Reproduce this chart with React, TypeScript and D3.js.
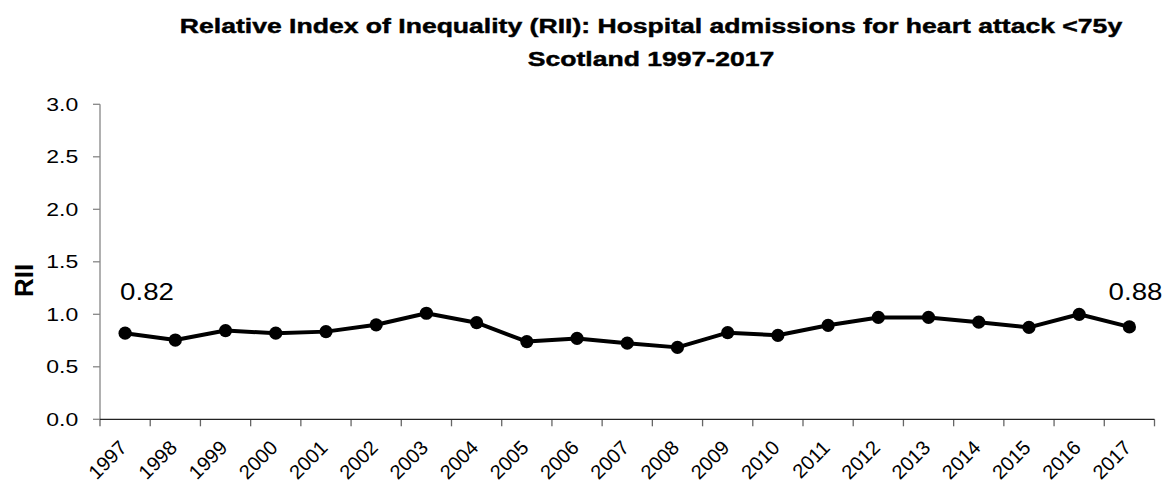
import React from "react";
import * as d3 from "d3";

// RII series, Scotland 1997-2017
const years: string[] = [
  "1997", "1998", "1999", "2000", "2001", "2002", "2003", "2004", "2005", "2006", "2007",
  "2008", "2009", "2010", "2011", "2012", "2013", "2014", "2015", "2016", "2017",
];
const rii: number[] = [
  0.82, 0.755, 0.845, 0.82, 0.835, 0.9, 1.01, 0.92, 0.74, 0.77, 0.725,
  0.685, 0.825, 0.8, 0.895, 0.97, 0.97, 0.925, 0.875, 1.0, 0.88,
];
const yTicks: number[] = [0, 0.5, 1.0, 1.5, 2.0, 2.5, 3.0];
const titleLines: string[] = [
  "Relative Index of Inequality (RII): Hospital admissions for heart attack <75y",
  "Scotland 1997-2017",
];
const yAxisTitle = "RII";

const W = 1165;
const H = 484;
const FONT = "'Liberation Sans', Arial, Helvetica, sans-serif";

export default function App() {
  const left = 100;
  const right = 1154.5;
  const top = 104.3;
  const bottom = 419.3;

  const x = d3.scaleBand<string>().domain(years).range([left, right]).padding(0);
  const y = d3.scaleLinear().domain([0, 3]).range([bottom, top]);
  const cx = (yr: string) => (x(yr) ?? 0) + x.bandwidth() / 2;

  const line = d3
    .line<number>()
    .x((_, i) => cx(years[i]))
    .y((d) => y(d));

  const tickEdges = d3.range(years.length + 1).map((i) => left + i * x.bandwidth());

  const first = 0;
  const last = rii.length - 1;

  return (
    <svg
      width={W}
      height={H}
      style={{ position: "absolute", left: 0, top: 0, background: "#fff" }}
      fontFamily={FONT}
    >
      {/* title */}
      {titleLines.map((t, i) => (
        <text
          key={i}
          transform={`translate(651, ${33.3 + i * 32.7}) scale(1.265, 1)`}
          textAnchor="middle"
          fontSize={21}
          fontWeight="bold"
          fill="#000"
          stroke="#000"
          strokeWidth={0.45}
        >
          {t}
        </text>
      ))}

      {/* y axis */}
      <line x1={left} x2={left} y1={top} y2={bottom} stroke="#868686" strokeWidth={1.3} />
      {yTicks.map((t) => (
        <g key={t}>
          <line x1={left - 7} x2={left} y1={y(t)} y2={y(t)} stroke="#868686" strokeWidth={1.3} />
          <text
            transform={`translate(78.3, ${y(t) + 6.4}) scale(1.3, 1)`}
            textAnchor="end"
            fontSize={17.7}
            fill="#000"
          >
            {t.toFixed(1)}
          </text>
        </g>
      ))}
      <text
        transform={`translate(33.3, 280.5) rotate(-90)`}
        textAnchor="middle"
        fontSize={26}
        fontWeight="bold"
        fill="#000"
      >
        {yAxisTitle}
      </text>

      {/* x axis */}
      {tickEdges.map((tx, i) => (
        <line key={i} x1={tx} x2={tx} y1={bottom} y2={bottom + 7} stroke="#666" strokeWidth={1.3} />
      ))}
      <line x1={left} x2={right} y1={bottom} y2={bottom} stroke="#222" strokeWidth={1.3} />
      {years.map((yr) => (
        <text
          key={yr}
          transform={`translate(${cx(yr) + 3}, 449) rotate(-45)`}
          textAnchor="end"
          fontSize={20}
          fill="#000"
        >
          {yr}
        </text>
      ))}

      {/* series */}
      <path d={line(rii) ?? ""} fill="none" stroke="#000" strokeWidth={4} strokeLinejoin="round" />
      {rii.map((v, i) => (
        <circle key={i} cx={cx(years[i])} cy={y(v)} r={6.6} fill="#000" />
      ))}

      {/* end-point value labels */}
      <text
        transform={`translate(${cx(years[first]) - 5}, ${y(rii[first]) - 33.7}) scale(1.12, 1)`}
        textAnchor="start"
        fontSize={24.7}
        fill="#000"
      >
        {rii[first].toFixed(2)}
      </text>
      <text
        transform={`translate(${cx(years[last]) + 33}, ${y(rii[last]) - 26.5}) scale(1.12, 1)`}
        textAnchor="end"
        fontSize={24.7}
        fill="#000"
      >
        {rii[last].toFixed(2)}
      </text>
    </svg>
  );
}
